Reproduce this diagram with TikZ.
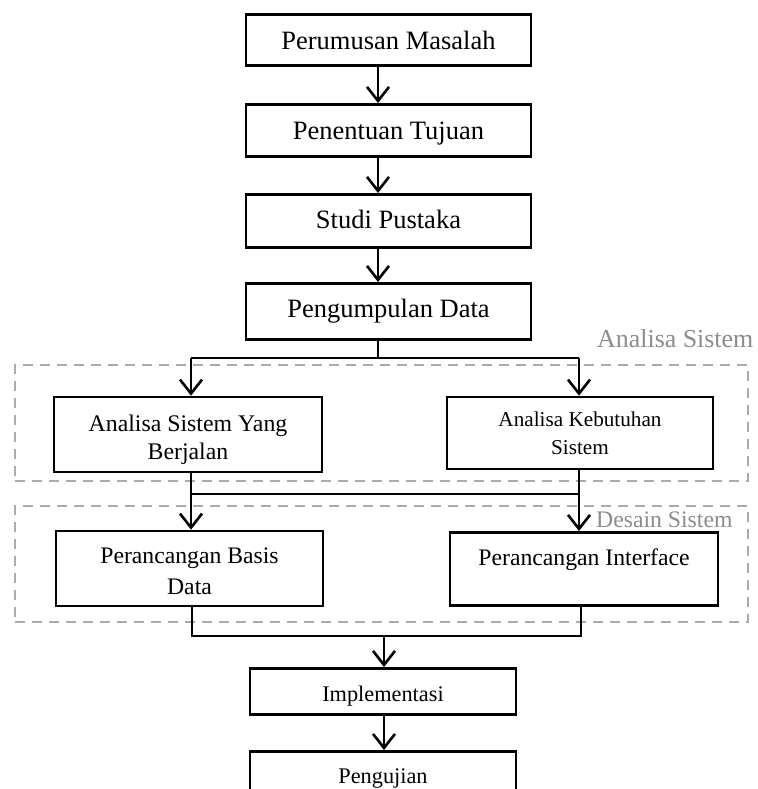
\documentclass[tikz,border=0pt]{standalone}
\usepackage{fontspec}
\setmainfont{Liberation Serif}
\usetikzlibrary{arrows.meta}
\definecolor{dashgray}{RGB}{170,170,170}
\definecolor{labelgray}{RGB}{140,140,140}
\newcommand{\fsz}[2]{\fontsize{#1}{#2}\selectfont}
\begin{document}
\begin{tikzpicture}[x=1pt,y=-1pt,
  box/.style={draw, line width=2.6pt, inner xsep=0pt, inner ysep=0pt, anchor=north},
  mbox/.style={draw, line width=2.6pt, inner sep=0pt, align=center},
  grp/.style={draw=dashgray, line width=2.2pt, dash pattern=on 10pt off 7pt, minimum width=733pt, minimum height=116pt, inner sep=0pt},
  lbl/.style={text=labelgray, inner sep=0pt, anchor=base west},
  ln/.style={line width=2.6pt},
  arr/.style={line width=2.6pt, -{Straight Barb[length=14pt,width=22pt]}}]
\useasboundingbox (0,0) rectangle (757,789);

% group frames
\node[grp] (g1) at (381.5,423) {};
\node[grp] (g2) at (381.5,564) {};
\node[lbl, font=\fsz{25.9}{30}] (l1) at (597,347) {Analisa Sistem};
\node[lbl, font=\fsz{23.7}{28}] (l2) at (596,527) {Desain Sistem};

% boxes
\node[box, minimum width=285pt, text height=35pt, text depth=16pt, font=\fsz{26.5}{30}] (b1) at (388.5,13) {Perumusan Masalah};
\node[box, minimum width=285pt, text height=35pt, text depth=17pt, font=\fsz{26.5}{30}] (b2) at (388.5,103) {Penentuan Tujuan};
\node[box, minimum width=285pt, text height=34pt, text depth=19pt, font=\fsz{26.5}{30}] (b3) at (388.5,193) {Studi Pustaka};
\node[box, minimum width=285pt, text height=34pt, text depth=22pt, font=\fsz{26.5}{30}] (b4) at (388.5,282) {Pengumpulan Data};

\node[mbox, minimum width=268pt, minimum height=75pt, font=\fsz{23.8}{28}] (a1) at (188,434.5) {\rule{0pt}{26.2pt}Analisa Sistem Yang\\Berjalan};
\node[mbox, minimum width=266pt, minimum height=72pt, font=\fsz{21.2}{28}] (a2) at (580,433) {\rule{0pt}{16pt}Analisa Kebutuhan\\Sistem};

\node[mbox, minimum width=267pt, minimum height=75pt, font=\fsz{23.7}{31}] (p1) at (189.5,568.5) {\rule{0pt}{22pt}Perancangan Basis\\Data};
\node[box, minimum width=268pt, text height=33pt, text depth=40pt, font=\fsz{23.7}{31}] (p2) at (584,531) {Perancangan Interface};

\node[box, minimum width=266pt, text height=33pt, text depth=13pt, font=\fsz{22.3}{26}] (im) at (383,667) {Implementasi};
\node[box, minimum width=266pt, text height=32pt, text depth=28pt, font=\fsz{22.3}{26}] (pg) at (383,750) {Pengujian};

% junction coordinates
\coordinate (cA) at (378,0);
\coordinate (j1) at (378,358);
\coordinate (j1L) at (191,358);
\coordinate (j1R) at (579,358);
\coordinate (j2L) at (191,494);
\coordinate (j2R) at (579,494);
\coordinate (j3L) at (192,636);
\coordinate (j3R) at (581,636);
\coordinate (j3M) at (384,636);

% connectors
\draw[arr] (b1.south -| cA) -- (b2.north -| cA);
\draw[arr] (b2.south -| cA) -- (b3.north -| cA);
\draw[arr] (b3.south -| cA) -- (b4.north -| cA);
\draw[ln] (b4.south -| cA) -- (j1);
\draw[ln] (j1L) -- (j1R);
\draw[arr] (j1L) -- (a1.north -| j1L);
\draw[arr] (j1R) -- (a2.north -| j1R);

\draw[arr] (a1.south -| j2L) -- (p1.north -| j2L);
\draw[arr] (a2.south -| j2R) -- (p2.north -| j2R);
\draw[ln] (j2L) -- (j2R);

\draw[ln] (p1.south -| j3L) -- (j3L) -- (j3R) -- (p2.south -| j3R);
\draw[arr] (j3M) -- (im.north -| j3M);
\draw[arr] (im.south -| j3M) -- (pg.north -| j3M);
\end{tikzpicture}
\end{document}
